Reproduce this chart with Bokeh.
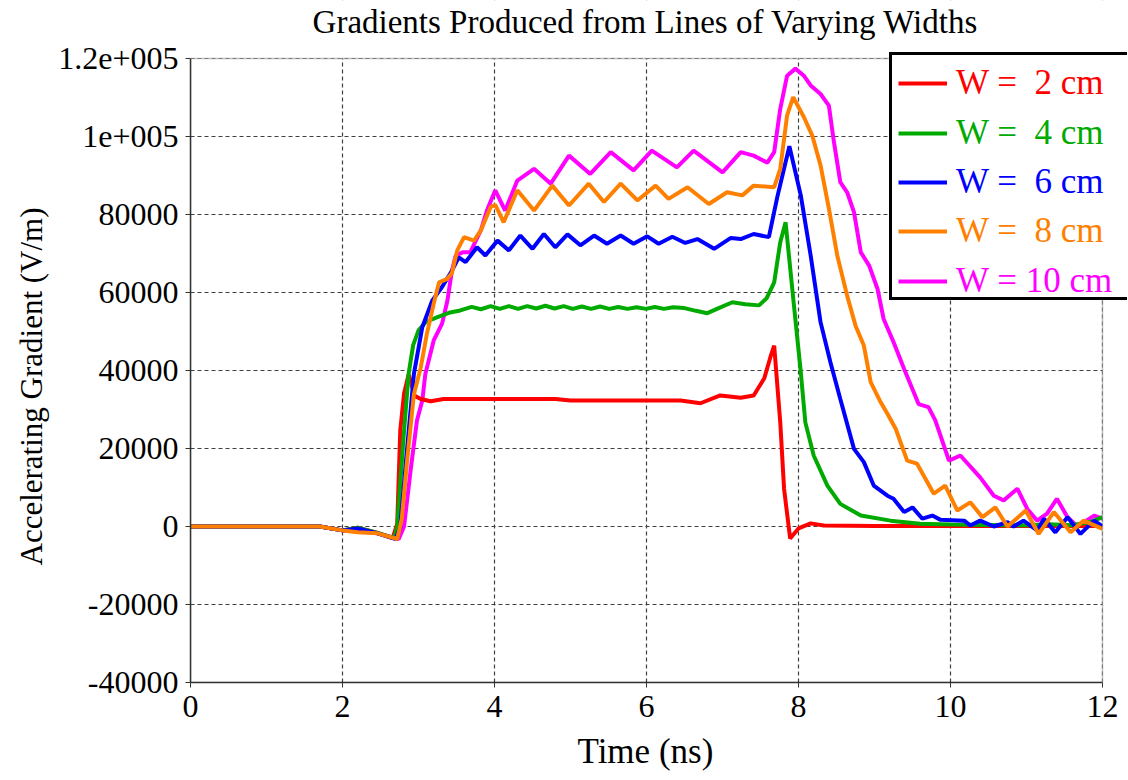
from bokeh.plotting import figure
from bokeh.models import Legend, LegendItem, FixedTicker, Range1d, BoxAnnotation, Label, Title
from bokeh.embed import file_html
from bokeh.resources import INLINE

TITLE = "Gradients Produced from Lines of Varying Widths"
X_LABEL = "Time (ns)"
Y_LABEL = "Accelerating Gradient (V/m)"

x_ticks = [0, 2, 4, 6, 8, 10, 12]
y_ticks = [-40000, -20000, 0, 20000, 40000, 60000, 80000, 100000, 120000]
y_tick_labels = ["-40000", "-20000", "0", "20000", "40000", "60000", "80000", "1e+005", "1.2e+005"]

labels = ["W =  2 cm", "W =  4 cm", "W =  6 cm", "W =  8 cm", "W = 10 cm"]
colors = ["#FF0000", "#00AA00", "#0000FF", "#FF8000", "#FF00FF"]

t_w2 = [0, 1.7, 2.0, 2.2, 2.45, 2.66, 2.72, 2.76, 2.81, 2.87, 2.95, 3.03, 3.16, 3.33, 4.8, 5.0,
        6.45, 6.71, 6.97, 7.24, 7.41, 7.55, 7.63, 7.68, 7.76, 7.81, 7.89, 8.0, 8.16, 8.33, 9.0, 10.0, 11.0, 12.0]
v_w2 = [0, 0, -1000, -300, -1600, -3000, 700, 24600, 34100, 39000, 33500, 32700, 32100, 32700, 32700, 32300,
        32300, 31600, 33600, 33000, 33600, 38000, 43400, 46400, 26700, 9700, -3100, -500, 800, 250, 150, 100, 100, 100]

t_w4 = [0, 1.7, 2.0, 2.2, 2.45, 2.68, 2.72, 2.80, 2.87, 2.93, 3.0, 3.1, 3.25, 3.4, 3.55,
        3.70, 3.82, 3.95, 4.07, 4.19, 4.31, 4.43, 4.55, 4.67, 4.79, 4.91, 5.03, 5.15, 5.27, 5.39,
        5.51, 5.63, 5.75, 5.87, 5.99, 6.11, 6.23, 6.35, 6.5, 6.65, 6.80, 6.95, 7.13, 7.3, 7.48,
        7.58, 7.68, 7.76, 7.83, 7.94, 8.03, 8.09, 8.20, 8.38, 8.55, 8.82, 9.21, 9.6, 10.0, 10.5,
        11.0, 11.3, 11.6, 11.85, 12.0]
v_w4 = [0, 0, -1000, -300, -1600, -3000, 0, 22000, 39200, 46500, 50300, 52500, 53700, 54800, 55400,
        56300, 55700, 56500, 55800, 56500, 55800, 56500, 55900, 56600, 55900, 56500, 55800, 56400, 55800, 56400,
        55800, 56300, 55800, 56200, 55800, 56300, 55800, 56200, 56000, 55300, 54700, 56000, 57500, 57000, 56700,
        58500, 62600, 72900, 78000, 56700, 39600, 26700, 18200, 10500, 5800, 2800, 1500, 700, 500, 400,
        300, 600, 300, 1200, 2400]

t_w6 = [0, 1.7, 2.0, 2.2, 2.45, 2.70, 2.76, 2.85, 2.94, 3.05, 3.18, 3.31, 3.44, 3.53, 3.62, 3.77,
        3.88, 4.04, 4.19, 4.34, 4.50, 4.65, 4.80, 4.96, 5.13, 5.31, 5.48, 5.66, 5.83, 6.01, 6.16,
        6.34, 6.51, 6.67, 6.89, 7.11, 7.24, 7.41, 7.61, 7.72, 7.88, 8.03, 8.16, 8.29, 8.42, 8.55,
        8.73, 8.86, 8.99, 9.17, 9.25, 9.39, 9.50, 9.63, 9.76, 9.87, 10.18, 10.26, 10.39, 10.57,
        10.75, 10.83, 10.96, 11.14, 11.23, 11.38, 11.54, 11.71, 11.89, 12.0]
v_w6 = [0, 0, -1000, -500, -1700, -3200, 0, 20000, 39200, 51100, 57900, 61400, 65600, 69000, 67800, 71600,
        69500, 73300, 70800, 74600, 71200, 75000, 71600, 74900, 72100, 74600, 72500, 74600, 72500, 74400, 72500,
        74300, 72700, 73700, 71200, 74000, 73700, 75000, 74200, 84400, 97500, 84900, 69500, 52400, 42100, 32700,
        19900, 16500, 10500, 7900, 7100, 3700, 4900, 2000, 2800, 1700, 1500, 250, 1500, 0,
        1100, 0, 1500, -1000, 2000, -1500, 2400, -1900, 1500, 0]

t_w8 = [0, 1.7, 2.0, 2.2, 2.45, 2.72, 2.78, 2.85, 2.94, 3.03, 3.11, 3.20, 3.27, 3.38, 3.44, 3.51,
        3.60, 3.73, 3.82, 3.95, 4.01, 4.12, 4.30, 4.52, 4.76, 4.98, 5.24, 5.44, 5.66, 5.88, 6.12,
        6.29, 6.54, 6.82, 7.06, 7.26, 7.41, 7.68, 7.76, 7.85, 7.93, 8.07, 8.18, 8.29, 8.40, 8.51,
        8.64, 8.75, 8.86, 8.95, 9.08, 9.17, 9.28, 9.43, 9.56, 9.78, 9.93, 10.09, 10.26, 10.42,
        10.59, 10.75, 10.99, 11.16, 11.36, 11.58, 11.75, 12.0]
v_w8 = [0, 0, -1000, -1500, -1700, -3200, 2000, 16900, 34000, 40800, 49400, 57100, 62600, 63500, 65000, 70800,
        74200, 73300, 75900, 81900, 82500, 78000, 86200, 81000, 87400, 82300, 87900, 83200, 87900, 83600, 87400,
        84000, 87000, 82700, 85700, 84900, 87400, 87000, 91700, 105400, 110100, 105000, 100300, 92600, 81500, 69500,
        59200, 51500, 46400, 37000, 31900, 28900, 25000, 16900, 16100, 8400, 10500, 4100, 6200, 2400,
        4900, 0, 4100, -1900, 3700, -1500, 1500, -600]

t_w10 = [0, 1.7, 2.0, 2.2, 2.45, 2.74, 2.81, 2.90, 2.98, 3.05, 3.09, 3.20, 3.31, 3.38, 3.44, 3.49,
         3.58, 3.68, 3.82, 3.90, 4.01, 4.14, 4.30, 4.52, 4.74, 4.98, 5.26, 5.53, 5.83, 6.07, 6.40,
         6.62, 7.0, 7.24, 7.41, 7.59, 7.68, 7.76, 7.85, 7.96, 8.07, 8.16, 8.29, 8.40, 8.46, 8.55,
         8.64, 8.73, 8.82, 8.93, 9.04, 9.12, 9.25, 9.39, 9.58, 9.71, 9.80, 9.98, 10.13, 10.39,
         10.57, 10.70, 10.88, 11.01, 11.14, 11.27, 11.40, 11.54, 11.67, 11.89, 12.0]
v_w10 = [0, 0, -1000, -1200, -1700, -3200, 0, 15000, 27200, 32300, 39100, 47700, 52000, 57900, 65600, 69500,
         70300, 70300, 75900, 81000, 86200, 81000, 88700, 91700, 87900, 95100, 90400, 96000, 91300, 96400, 92100,
         96400, 90800, 96000, 95100, 93300, 96000, 107100, 115600, 117400, 115600, 113100, 110900, 107900, 99400, 88300,
         85700, 80600, 70300, 66900, 60900, 53200, 47300, 40400, 31400, 30600, 27200, 16900, 18200, 12600,
         7900, 6700, 9700, 4500, 1500, 3300, 7100, 2400, 0, 2800, 2000]

series_t = [t_w2, t_w4, t_w6, t_w8, t_w10]
series_v = [v_w2, v_w4, v_w6, v_w8, v_w10]

SERIF = "Liberation Serif"
X_MIN, X_MAX = 0, 12
Y_MIN, Y_MAX = -40000, 120000

# The frame reaches past x = 12 (for the overhanging legend box) and above
# y = 1.2e5 (for the title); both extra strips are covered in white.
PLOT_W, PLOT_H = 912, 624
FRAME_W, FRAME_H = 937, 682
x_end = X_MIN + (X_MAX - X_MIN) * FRAME_W / PLOT_W
y_end = Y_MIN + (Y_MAX - Y_MIN) * FRAME_H / PLOT_H
px_x = (X_MAX - X_MIN) / PLOT_W
px_y = (Y_MAX - Y_MIN) / PLOT_H

p = figure(frame_width=FRAME_W, frame_height=FRAME_H,
           x_range=Range1d(X_MIN, x_end), y_range=Range1d(Y_MIN, y_end),
           output_backend="svg", toolbar_location=None,
           min_border_left=190, min_border_right=0, min_border_top=0, min_border_bottom=90)

p.outline_line_color = None
p.background_fill_color = "white"
p.border_fill_color = "white"

for ax in (p.xaxis[0], p.yaxis[0]):
    ax.major_label_text_font = SERIF
    ax.major_label_text_font_size = "32px"
    ax.major_label_text_color = "black"
    ax.axis_line_color = "#333333"
    ax.axis_line_width = 1.5
    ax.major_tick_line_color = "#333333"
    ax.major_tick_out = 5
    ax.major_tick_in = 0
    ax.minor_tick_line_color = None

p.xaxis.bounds = (X_MIN, X_MAX)
p.yaxis.bounds = (Y_MIN, Y_MAX)
p.xaxis.ticker = FixedTicker(ticks=x_ticks)
p.yaxis.ticker = FixedTicker(ticks=y_ticks)
p.yaxis.major_label_overrides = {tv: tl for tv, tl in zip(y_ticks, y_tick_labels)}
p.xaxis.major_label_standoff = 8
p.yaxis.major_label_standoff = 7

# axis titles (side titles, so that they can be shifted like in the original)
p.add_layout(Title(text=X_LABEL, align="left", offset=387, standoff=20,
                   text_font=SERIF, text_font_size="35px", text_font_style="normal",
                   text_color="black"), "below")
p.add_layout(Title(text=Y_LABEL, align="left", offset=117, standoff=14,
                   text_font=SERIF, text_font_size="31px", text_font_style="normal",
                   text_color="black"), "left")

for g in (p.xgrid[0], p.ygrid[0]):
    g.grid_line_color = "#404040"
    g.grid_line_width = 1.2
    g.grid_line_dash = "4 3"

renderers = {}
for idx in [4, 0, 1, 2, 3]:
    renderers[idx] = p.line(series_t[idx], series_v[idx], line_color=colors[idx], line_width=4)

# white covers outside the plot box, then the plot box outline
p.add_layout(BoxAnnotation(left=X_MAX, fill_color="white", fill_alpha=1.0, line_alpha=0))
p.add_layout(BoxAnnotation(bottom=Y_MAX, fill_color="white", fill_alpha=1.0, line_alpha=0))
p.add_layout(BoxAnnotation(left=X_MIN, right=X_MAX, bottom=Y_MIN, top=Y_MAX,
                           fill_color=None, fill_alpha=0, line_color="#333333", line_width=1.5))

# chart title
p.add_layout(Label(x=(X_MIN + X_MAX) / 2 - 1 * px_x, y=Y_MAX + 37 * px_y, text=TITLE,
                   text_align="center", text_baseline="alphabetic",
                   text_font=SERIF, text_font_size="33px", text_color="black"))

# invisible renderer whose legend entry only provides the framed white box
frame_dummy = p.line([], [], line_alpha=0)
box_legend = Legend(items=[LegendItem(label="", renderers=[frame_dummy])],
                    location=(699, 382),
                    glyph_width=236, glyph_height=242, label_height=0, label_width=0,
                    label_standoff=0, padding=0, margin=0, spacing=0,
                    border_line_color="black", border_line_width=3, border_line_alpha=1.0,
                    background_fill_color="white", background_fill_alpha=1.0)
p.add_layout(box_legend, "center")

row_y = [576.7, 527.3, 477.7, 429.0, 379.3]
for idx in range(5):
    lg = Legend(items=[LegendItem(label=labels[idx], renderers=[renderers[idx]])],
                location=(708, row_y[idx]),
                label_text_font=SERIF, label_text_font_size="35px",
                label_text_color=colors[idx],
                glyph_width=49, glyph_height=44, label_height=44,
                label_standoff=9, padding=0, margin=0, spacing=0,
                border_line_alpha=0, background_fill_alpha=0)
    p.add_layout(lg, "center")

open("out.html", "w").write(file_html(p, INLINE))
